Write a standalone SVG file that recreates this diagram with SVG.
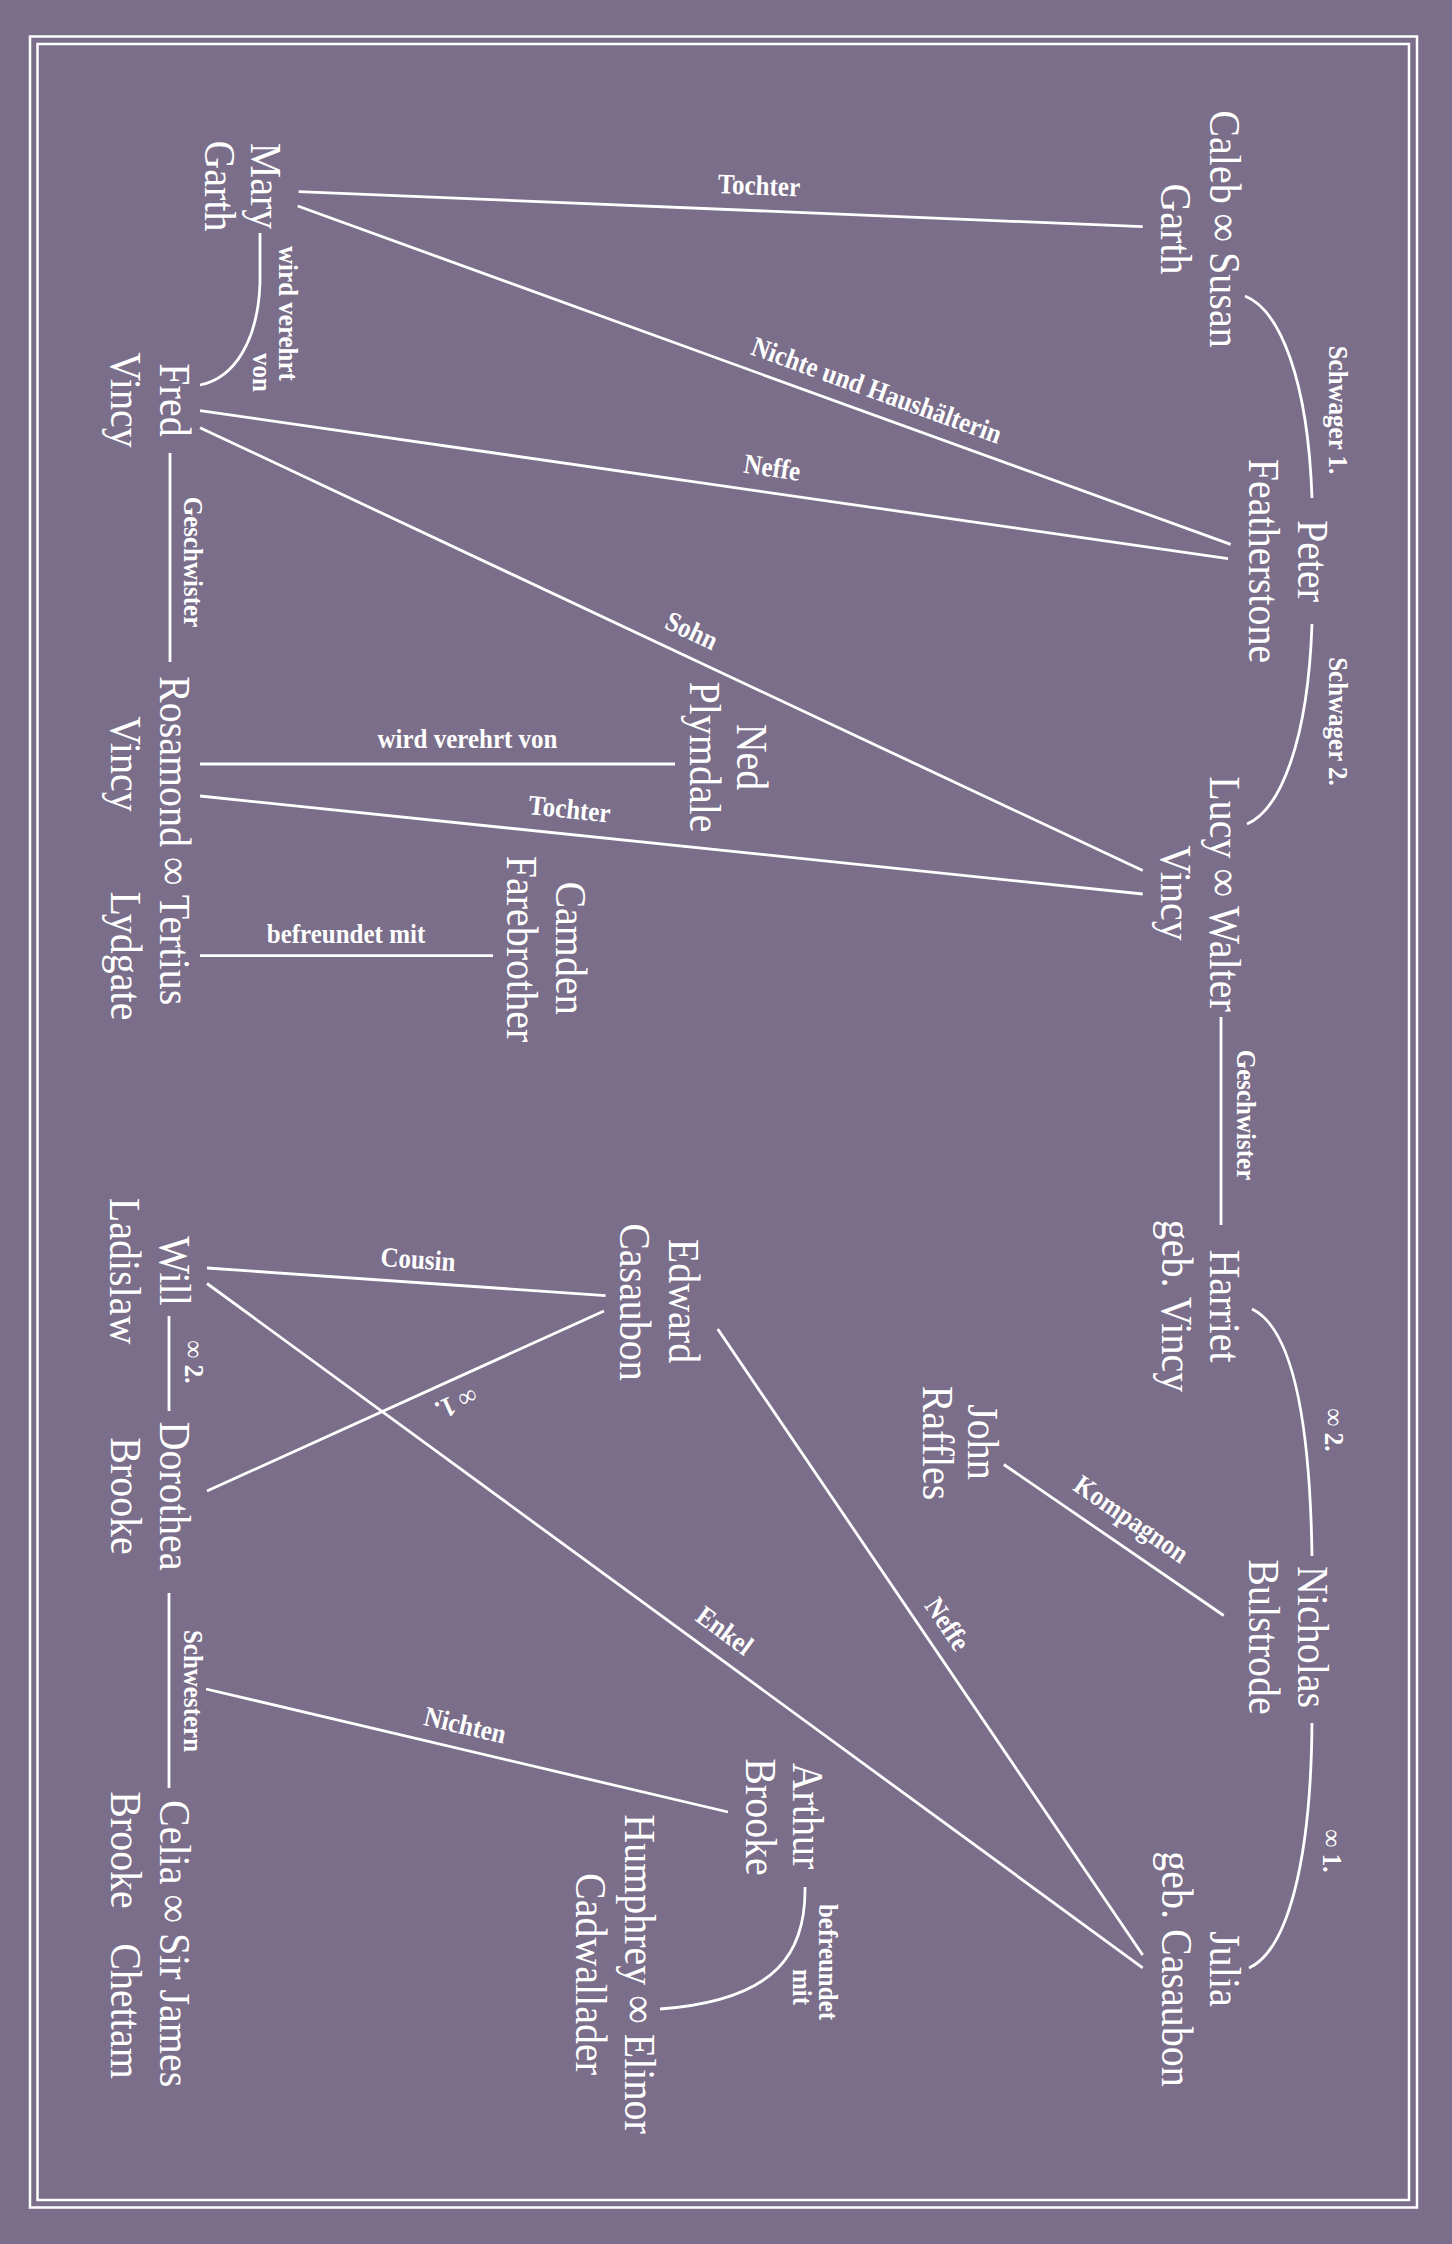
<svg xmlns="http://www.w3.org/2000/svg" width="1452" height="2244" viewBox="0 0 1452 2244">
<style>
.bg{fill:#7a6e8a}
.frame{fill:none;stroke:#fff;stroke-width:2.5}
.ln{fill:none;stroke:#fff;stroke-width:2.8}
.nm{font-family:"Liberation Serif","DejaVu Serif",serif;font-size:40px;fill:#fff;text-anchor:middle}
.st{text-anchor:start}
.lb{font-family:"Liberation Serif","DejaVu Serif",serif;font-size:25px;font-weight:bold;fill:#fff;text-anchor:middle}
</style>
<rect class="bg" x="0" y="0" width="1452" height="2244"/>
<g id="frame">
<rect class="frame" x="30" y="36.5" width="1387" height="2171"/>
<rect class="frame" x="37.5" y="44" width="1371.5" height="2156"/>
</g>
<g id="connectors">
<path class="ln" d="M298.6,191.7 L1142.7,226.7"/>
<path class="ln" d="M297.7,206 L1230.7,544.4"/>
<path class="ln" d="M200,410.6 L1228,558.7"/>
<path class="ln" d="M200,427.7 L1142.7,870.6"/>
<path class="ln" d="M200,764 L675,764"/>
<path class="ln" d="M200,796 L1142.7,894"/>
<path class="ln" d="M200,955.6 L493,955.6"/>
<path class="ln" d="M1245,296 C1280,310 1308,380 1312,498"/>
<path class="ln" d="M1312,624 C1308,742 1280,810 1247,824"/>
<path class="ln" d="M260,233 L260,283 C258,340 235,378 200,385"/>
<path class="ln" d="M170,453 L170,662"/>
<path class="ln" d="M1221,1017 L1221,1225"/>
<path class="ln" d="M1252,1309 C1292,1328 1310,1420 1312,1556"/>
<path class="ln" d="M1312,1723 C1311,1860 1288,1950 1249,1968"/>
<path class="ln" d="M169,1316 L169,1411"/>
<path class="ln" d="M169,1593 L169,1788"/>
<path class="ln" d="M207,1268 L605.6,1295.6"/>
<path class="ln" d="M604,1311 L207,1491"/>
<path class="ln" d="M207,1283.5 L1142.7,1967.8"/>
<path class="ln" d="M717.7,1329 L1142.7,1955"/>
<path class="ln" d="M1003.8,1464.5 L1223.7,1615.5"/>
<path class="ln" d="M206,1689 L728,1812"/>
<path class="ln" d="M805,1887 C806,1950 780,2000 660,2009"/>
</g>
<g id="connector-labels">
<text class="lb" transform="translate(757.9,210.75) rotate(2.37) translate(0,-16) scale(1,1.12)">Tochter</text>
<text class="lb" transform="translate(868.4,413) rotate(19.94) translate(0,-15) scale(1,1.12)">Nichte und Haushälterin</text>
<text class="lb" transform="translate(768.5,492.5) rotate(8.2) translate(0,-16) scale(1,1.12)">Neffe</text>
<text class="lb" transform="translate(680.9,653.6) rotate(25.16) translate(0,-16) scale(1,1.12)">Sohn</text>
<text class="lb" transform="translate(467.5,764) translate(0,-16) scale(1,1.12)">wird verehrt von</text>
<text class="lb" transform="translate(567,834.2) rotate(5.93) translate(0,-16) scale(1,1.12)">Tochter</text>
<text class="lb" transform="translate(346,955.6) translate(0,-13) scale(1,1.12)">befreundet mit</text>
<text class="lb" transform="translate(416.4,1282.5) rotate(3.96) translate(0,-14) scale(1,1.12)">Cousin</text>
<text class="lb" transform="translate(446.9,1382.2) rotate(155.6) translate(0,-14) scale(1,1.12)">∞ 1.</text>
<text class="lb" transform="translate(709.7,1651.1) rotate(36.17) translate(0,-16) scale(1,1.12)">Enkel</text>
<text class="lb" transform="translate(927.3,1637.7) rotate(55.83) translate(0,-15) scale(1,1.12)">Neffe</text>
<text class="lb" transform="translate(1115.9,1541.5) rotate(34.48) translate(0,-18) scale(1,1.12)">Kompagnon</text>
<text class="lb" transform="translate(459.6,1748.8) rotate(13.26) translate(0,-15) scale(1,1.12)">Nichten</text>
<text class="lb" transform="translate(1329,410) rotate(90) scale(1,1.12)">Schwager 1.</text>
<text class="lb" transform="translate(1329,721.5) rotate(90) scale(1,1.12)">Schwager 2.</text>
<text class="lb" transform="translate(279,313.5) rotate(90) scale(1,1.12)">wird verehrt</text>
<text class="lb" transform="translate(253,372.5) rotate(90) scale(1,1.12)">von</text>
<text class="lb" transform="translate(184,562) rotate(90) scale(1,1.12)">Geschwister</text>
<text class="lb" transform="translate(1237,1115) rotate(90) scale(1,1.12)">Geschwister</text>
<text class="lb" transform="translate(1325,1430) rotate(90) scale(1,1.12)">∞ 2.</text>
<text class="lb" transform="translate(1323,1851) rotate(90) scale(1,1.12)">∞ 1.</text>
<text class="lb" transform="translate(185,1362) rotate(90) scale(1,1.12)">∞ 2.</text>
<text class="lb" transform="translate(184,1691) rotate(90) scale(1,1.12)">Schwestern</text>
<text class="lb" transform="translate(819,1962) rotate(90) scale(1,1.12)">befreundet</text>
<text class="lb" transform="translate(793,1987) rotate(90) scale(1,1.12)">mit</text>
</g>
<g id="mary-garth">
<text class="nm" transform="translate(251,186) rotate(90) scale(1,1.12)">Mary</text>
<text class="nm" transform="translate(205,186) rotate(90) scale(1,1.12)">Garth</text>
</g>
<g id="fred-vincy">
<text class="nm" transform="translate(160,400) rotate(90) scale(1,1.12)">Fred</text>
<text class="nm" transform="translate(111,400) rotate(90) scale(1,1.12)">Vincy</text>
</g>
<g id="caleb-susan-garth">
<text class="nm" transform="translate(1210,229) rotate(90) scale(1,1.12)">Caleb ∞ Susan</text>
<text class="nm" transform="translate(1161,229) rotate(90) scale(1,1.12)">Garth</text>
</g>
<g id="peter-featherstone">
<text class="nm" transform="translate(1298,561) rotate(90) scale(1,1.12)">Peter</text>
<text class="nm" transform="translate(1249,561) rotate(90) scale(1,1.12)">Featherstone</text>
</g>
<g id="lucy-walter-vincy">
<text class="nm" transform="translate(1210,894) rotate(90) scale(1,1.12)">Lucy ∞ Walter</text>
<text class="nm" transform="translate(1161,893) rotate(90) scale(1,1.12)">Vincy</text>
</g>
<g id="ned-plymdale">
<text class="nm" transform="translate(737,757) rotate(90) scale(1,1.12)">Ned</text>
<text class="nm" transform="translate(690,757) rotate(90) scale(1,1.12)">Plymdale</text>
</g>
<g id="rosamond-tertius">
<text class="nm st" transform="translate(160,676) rotate(90) scale(1,1.12)">Rosamond ∞ Tertius</text>
<text class="nm" transform="translate(111,764) rotate(90) scale(1,1.12)">Vincy</text>
<text class="nm" transform="translate(111,956) rotate(90) scale(1,1.12)">Lydgate</text>
</g>
<g id="camden-farebrother">
<text class="nm" transform="translate(556,948) rotate(90) scale(1,1.12)">Camden</text>
<text class="nm" transform="translate(507,949) rotate(90) scale(1,1.12)">Farebrother</text>
</g>
<g id="edward-casaubon">
<text class="nm" transform="translate(669,1301) rotate(90) scale(1,1.12)">Edward</text>
<text class="nm" transform="translate(620,1302) rotate(90) scale(1,1.12)">Casaubon</text>
</g>
<g id="will-ladislaw">
<text class="nm" transform="translate(160,1271) rotate(90) scale(1,1.12)">Will</text>
<text class="nm" transform="translate(110,1271) rotate(90) scale(1,1.12)">Ladislaw</text>
</g>
<g id="dorothea-brooke">
<text class="nm" transform="translate(160,1496) rotate(90) scale(1,1.12)">Dorothea</text>
<text class="nm" transform="translate(111,1496) rotate(90) scale(1,1.12)">Brooke</text>
</g>
<g id="celia-sir-james">
<text class="nm st" transform="translate(160,1800) rotate(90) scale(1,1.12)">Celia ∞ Sir James</text>
<text class="nm" transform="translate(111,1850) rotate(90) scale(1,1.12)">Brooke</text>
<text class="nm" transform="translate(111,2011) rotate(90) scale(1,1.12)">Chettam</text>
</g>
<g id="harriet-vincy">
<text class="nm" transform="translate(1210,1306) rotate(90) scale(1,1.12)">Harriet</text>
<text class="nm" transform="translate(1162,1306) rotate(90) scale(1,1.12)">geb. Vincy</text>
</g>
<g id="john-raffles">
<text class="nm" transform="translate(968,1442) rotate(90) scale(1,1.12)">John</text>
<text class="nm" transform="translate(923,1443) rotate(90) scale(1,1.12)">Raffles</text>
</g>
<g id="nicholas-bulstrode">
<text class="nm" transform="translate(1298,1637) rotate(90) scale(1,1.12)">Nicholas</text>
<text class="nm" transform="translate(1249,1637) rotate(90) scale(1,1.12)">Bulstrode</text>
</g>
<g id="julia-casaubon">
<text class="nm" transform="translate(1210,1969) rotate(90) scale(1,1.12)">Julia</text>
<text class="nm" transform="translate(1162,1969) rotate(90) scale(1,1.12)">geb. Casaubon</text>
</g>
<g id="arthur-brooke">
<text class="nm" transform="translate(793,1816) rotate(90) scale(1,1.12)">Arthur</text>
<text class="nm" transform="translate(746,1817) rotate(90) scale(1,1.12)">Brooke</text>
</g>
<g id="humphrey-elinor">
<text class="nm" transform="translate(625,1974) rotate(90) scale(1,1.12)">Humphrey ∞ Elinor</text>
<text class="nm" transform="translate(576,1974) rotate(90) scale(1,1.12)">Cadwallader</text>
</g>
</svg>
